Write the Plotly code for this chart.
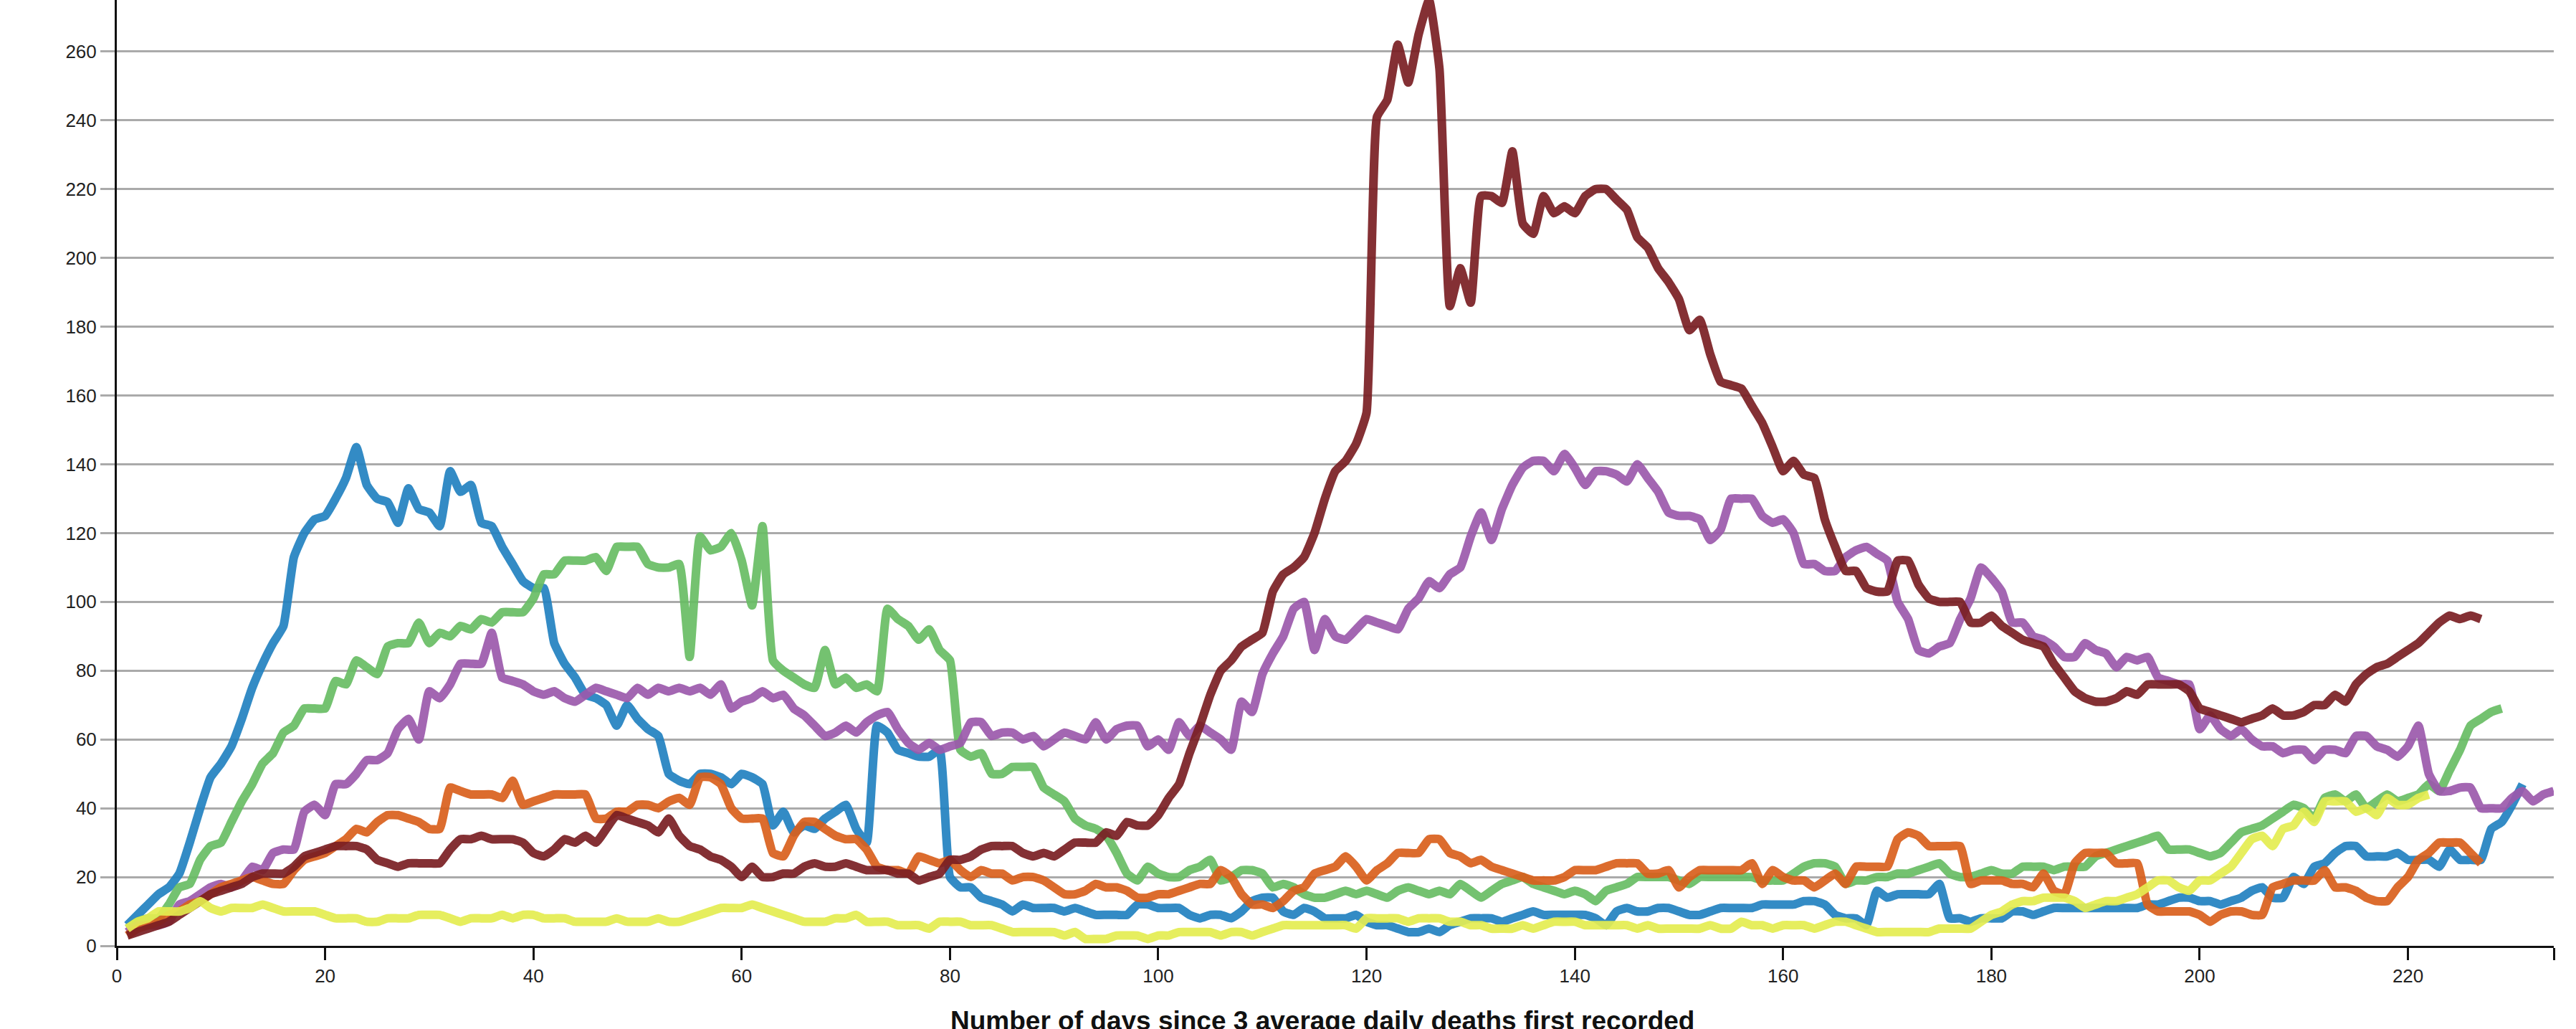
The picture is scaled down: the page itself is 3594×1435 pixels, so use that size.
import plotly.graph_objects as go

# ---------------- data (daily values, day 1..N) ----------------
blue = [6, 9, 12, 15, 17, 21, 30, 40, 49, 53,
        58, 66, 75, 82, 88, 93, 113, 120, 124, 125,
        130, 136, 145, 134, 130, 129, 123, 133, 127, 126,
        122, 138, 132, 134, 123, 122, 116, 111, 106, 104,
        104, 88, 82, 78, 73, 72, 70, 64, 70, 66,
        63, 61, 50, 48, 47, 50, 50, 49, 47, 50,
        49, 47, 35, 39, 33, 35, 34, 37, 39, 41,
        34, 30, 64, 62, 57, 56, 55, 55, 57, 20,
        17, 17, 14, 13, 12, 10, 12, 11, 11, 11,
        10, 11, 10, 9, 9, 9, 9, 12, 12, 11,
        11, 11, 9, 8, 9, 9, 8, 10, 13, 14,
        14, 10, 9, 11, 10, 8, 8, 8, 9, 7,
        6, 6, 5, 4, 4, 5, 4, 6, 7, 8,
        8, 8, 7, 8, 9, 10, 9, 9, 9, 9,
        9, 8, 6, 10, 11, 10, 10, 11, 11, 10,
        9, 9, 10, 11, 11, 11, 11, 12, 12, 12,
        12, 13, 13, 12, 9, 8, 8, 6, 16, 14,
        15, 15, 15, 15, 18, 8, 8, 7, 8, 8,
        8, 10, 10, 9, 10, 11, 11, 11, 11, 11,
        11, 11, 11, 11, 12, 12, 13, 14, 14, 13,
        13, 12, 13, 14, 16, 17, 14, 14, 20, 18,
        23, 24, 27, 29, 29, 26, 26, 26, 27, 25,
        25, 25, 23, 28, 25, 25, 25, 34, 36, 41, 47]

green = [5, 7, 8, 8, 12, 17, 18, 25, 29, 30,
         36, 42, 47, 53, 56, 62, 64, 69, 69, 69,
         77, 76, 83, 81, 79, 87, 88, 88, 94, 88,
         91, 90, 93, 92, 95, 94, 97, 97, 97, 101,
         108, 108, 112, 112, 112, 113, 109, 116, 116, 116,
         111, 110, 110, 111, 84, 119, 115, 116, 120, 112,
         99, 122, 83, 80, 78, 76, 75, 86, 76, 78,
         75, 76, 74, 98, 95, 93, 89, 92, 86, 83,
         57, 55, 56, 50, 50, 52, 52, 52, 46, 44,
         42, 37, 35, 34, 32, 27, 21, 19, 23, 21,
         20, 20, 22, 23, 25, 19, 20, 22, 22, 21,
         17, 18, 17, 15, 14, 14, 15, 16, 15, 16,
         15, 14, 16, 17, 16, 15, 16, 15, 18, 16,
         14, 16, 18, 19, 20, 18, 17, 16, 15, 16,
         15, 13, 16, 17, 18, 20, 20, 20, 20, 19,
         18, 20, 20, 20, 20, 20, 20, 19, 19, 19,
         21, 23, 24, 24, 23, 18, 19, 19, 20, 20,
         21, 21, 22, 23, 24, 21, 20, 20, 21, 22,
         21, 21, 23, 23, 23, 22, 23, 23, 23, 26,
         27, 28, 29, 30, 31, 32, 28, 28, 28, 27,
         26, 27, 30, 33, 34, 35, 37, 39, 41, 40,
         37, 43, 44, 42, 44, 40, 42, 44, 42, 43,
         44, 47, 45, 51, 57, 64, 66, 68, 69]

purple = [4, 6, 6, 6, 7, 12, 13, 15, 17, 18,
          17, 19, 23, 22, 27, 28, 28, 39, 41, 38,
          47, 47, 50, 54, 54, 56, 63, 66, 60, 74,
          72, 76, 82, 82, 82, 91, 78, 77, 76, 74,
          73, 74, 72, 71, 73, 75, 74, 73, 72, 75,
          73, 75, 74, 75, 74, 75, 73, 76, 69, 71,
          72, 74, 72, 73, 69, 67, 64, 61, 62, 64,
          62, 65, 67, 68, 63, 59, 57, 59, 57, 58,
          59, 65, 65, 61, 62, 62, 60, 61, 58, 60,
          62, 61, 60, 65, 60, 63, 64, 64, 58, 60,
          57, 65, 61, 64, 62, 60, 57, 71, 68, 79,
          85, 90, 98, 100, 86, 95, 90, 89, 92, 95,
          94, 93, 92, 98, 101, 106, 104, 108, 110, 119,
          126, 118, 127, 134, 139, 141, 141, 138, 143, 139,
          134, 138, 138, 137, 135, 140, 136, 132, 126, 125,
          125, 124, 118, 121, 130, 130, 130, 125, 123, 124,
          120, 111, 111, 109, 109, 113, 115, 116, 114, 112,
          100, 95, 86, 85, 87, 88, 95, 101, 110, 107,
          103, 94, 94, 90, 89, 87, 84, 84, 88, 86,
          85, 81, 84, 83, 84, 78, 77, 76, 76, 63,
          67, 63, 61, 63, 60, 58, 58, 56, 57, 57,
          54, 57, 57, 56, 61, 61, 58, 57, 55, 58,
          64, 50, 45, 45, 46, 46, 40, 40, 40, 43,
          45, 42, 44, 45]

orange = [3, 5, 6, 7, 9, 10, 12, 13, 15, 17,
          18, 19, 20, 19, 18, 18, 22, 25, 26, 27,
          29, 31, 34, 33, 36, 38, 38, 37, 36, 34,
          34, 46, 45, 44, 44, 44, 43, 48, 41, 42,
          43, 44, 44, 44, 44, 37, 37, 39, 39, 41,
          41, 40, 42, 43, 41, 49, 49, 47, 40, 37,
          37, 37, 27, 26, 32, 36, 36, 34, 32, 31,
          31, 28, 23, 22, 22, 21, 26, 25, 24, 25,
          22, 20, 22, 21, 21, 19, 20, 20, 19, 17,
          15, 15, 16, 18, 17, 17, 16, 14, 14, 15,
          15, 16, 17, 18, 18, 22, 20, 15, 12, 12,
          11, 13, 16, 17, 21, 22, 23, 26, 23, 19,
          22, 24, 27, 27, 27, 31, 31, 27, 26, 24,
          25, 23, 22, 21, 20, 19, 19, 19, 20, 22,
          22, 22, 23, 24, 24, 24, 21, 21, 22, 17,
          20, 22, 22, 22, 22, 22, 24, 18, 22, 20,
          19, 19, 17, 19, 21, 18, 23, 23, 23, 23,
          31, 33, 32, 29, 29, 29, 29, 18, 19, 19,
          19, 18, 18, 17, 21, 16, 15, 24, 27, 27,
          27, 24, 24, 24, 12, 10, 10, 10, 10, 9,
          7, 9, 10, 10, 9, 9, 17, 18, 19, 19,
          19, 22, 17, 17, 16, 14, 13, 13, 17, 20,
          25, 27, 30, 30, 30, 27, 24]

darkred = [3, 4, 5, 6, 7, 9, 11, 13, 15, 16,
           17, 18, 20, 21, 21, 21, 23, 26, 27, 28,
           29, 29, 29, 28, 25, 24, 23, 24, 24, 24,
           24, 28, 31, 31, 32, 31, 31, 31, 30, 27,
           26, 28, 31, 30, 32, 30, 34, 38, 37, 36,
           35, 33, 37, 32, 29, 28, 26, 25, 23, 20,
           23, 20, 20, 21, 21, 23, 24, 23, 23, 24,
           23, 22, 22, 22, 21, 21, 19, 20, 21, 25,
           25, 26, 28, 29, 29, 29, 27, 26, 27, 26,
           28, 30, 30, 30, 33, 32, 36, 35, 35, 38,
           43, 47, 56, 64, 73, 80, 83, 87, 89, 91,
           103, 108, 110, 113, 120, 130, 138, 141, 146, 155,
           241, 246, 262, 251, 265, 275, 255, 186, 197, 187,
           218, 218, 216, 231, 210, 207, 218, 213, 215, 213,
           218, 220, 220, 217, 214, 206, 203, 197, 193, 188,
           179, 182, 172, 164, 163, 162, 157, 152, 145, 138,
           141, 137, 136, 124, 116, 109, 109, 104, 103, 103,
           112, 112, 105, 101, 100, 100, 100, 94, 94, 96,
           93, 91, 89, 88, 87, 82, 78, 74, 72, 71,
           71, 72, 74, 73, 76, 76, 76, 76, 74, 69,
           68, 67, 66, 65, 66, 67, 69, 67, 67, 68,
           70, 70, 73, 71, 76, 79, 81, 82, 84, 86,
           88, 91, 94, 96, 95, 96, 95]

yellow = [5, 7, 8, 10, 10, 10, 11, 13, 11, 10,
          11, 11, 11, 12, 11, 10, 10, 10, 10, 9,
          8, 8, 8, 7, 7, 8, 8, 8, 9, 9,
          9, 8, 7, 8, 8, 8, 9, 8, 9, 9,
          8, 8, 8, 7, 7, 7, 7, 8, 7, 7,
          7, 8, 7, 7, 8, 9, 10, 11, 11, 11,
          12, 11, 10, 9, 8, 7, 7, 7, 8, 8,
          9, 7, 7, 7, 6, 6, 6, 5, 7, 7,
          7, 6, 6, 6, 5, 4, 4, 4, 4, 4,
          3, 4, 2, 2, 2, 3, 3, 3, 2, 3,
          3, 4, 4, 4, 4, 3, 4, 4, 3, 4,
          5, 6, 6, 6, 6, 6, 6, 6, 5, 8,
          8, 8, 8, 7, 8, 8, 8, 7, 7, 6,
          6, 5, 5, 5, 6, 5, 6, 7, 7, 7,
          6, 6, 6, 6, 6, 5, 6, 5, 5, 5,
          5, 5, 6, 5, 5, 7, 6, 6, 5, 6,
          6, 6, 5, 6, 7, 7, 6, 5, 4, 4,
          4, 4, 4, 4, 5, 5, 5, 5, 7, 9,
          10, 12, 13, 13, 14, 14, 14, 13, 11, 12,
          13, 13, 14, 15, 17, 19, 19, 17, 16, 19,
          19, 21, 23, 27, 31, 32, 29, 34, 35, 39,
          36, 42, 42, 42, 39, 40, 38, 43, 41, 41,
          43, 44]

x_tick_vals = [0, 20, 40, 60, 80, 100, 120, 140, 160, 180, 200, 220]
y_tick_vals = [0, 20, 40, 60, 80, 100, 120, 140, 160, 180, 200, 220, 240, 260]
x_title = "Number of days since 3 average daily deaths first recorded"

# ---------------- figure ----------------
series = [
    (blue, "#2281c0"),
    (green, "#68bd64"),
    (purple, "#9b59ab"),
    (orange, "#d9601c"),
    (darkred, "#7a1e23"),
    (yellow, "#e4ed50"),
]

fig = go.Figure()
for vals, col in series:
    fig.add_trace(go.Scatter(
        x=list(range(1, len(vals) + 1)), y=vals, mode="lines",
        line=dict(color=col, width=12, shape="spline", smoothing=0.4),
        opacity=0.92, hoverinfo="skip", showlegend=False))

x_max = max(len(v) for v, _ in series)
y_max = max(max(v) for v, _ in series)

FONT = "Liberation Sans, Arial, Helvetica, sans-serif"

fig.update_layout(
    width=3594, height=1435,
    margin=dict(l=163, r=31, t=0, b=116),
    paper_bgcolor="white", plot_bgcolor="white",
    showlegend=False,
    font=dict(family=FONT, size=26, color="#222222"),
)

fig.update_xaxes(
    range=[0, x_max],
    tickvals=x_tick_vals + [x_max],
    ticktext=[str(v) for v in x_tick_vals] + [""],
    showgrid=False, zeroline=False,
    showline=True, linecolor="#111111", linewidth=3,
    ticks="outside", ticklen=17, tickwidth=3, tickcolor="#111111",
    tickfont=dict(family=FONT, size=26, color="#222222"),
)

fig.update_yaxes(
    range=[0, y_max],
    tickvals=y_tick_vals,
    showgrid=True, gridcolor="#aaaaaa", gridwidth=3,
    zeroline=False,
    showline=True, linecolor="#111111", linewidth=3,
    ticks="outside", ticklen=20, tickwidth=3, tickcolor="#aaaaaa",
    tickfont=dict(family=FONT, size=26, color="#222222"),
)

fig.add_annotation(
    text="<b>" + x_title + "</b>",
    xref="paper", yref="paper", x=0.4947, y=-0.079,
    xanchor="center", yanchor="middle", showarrow=False,
    font=dict(family=FONT, size=37, color="#111111"),
)

fig.write_html(
    "out.html",
    config={"displayModeBar": False, "staticPlot": True},
    post_script="document.body.style.margin='0px';document.body.style.overflow='hidden';",
)
